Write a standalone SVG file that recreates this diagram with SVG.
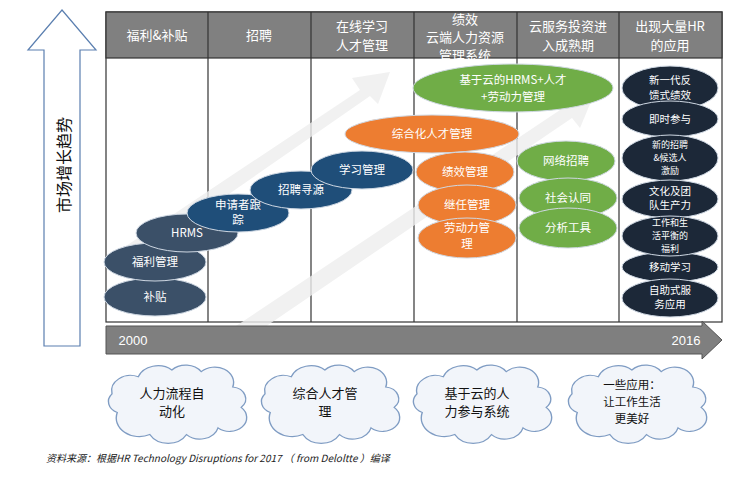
<svg xmlns="http://www.w3.org/2000/svg" width="742" height="480" viewBox="0 0 742 480">
<style>
text{font-family:"Noto Sans CJK SC","Liberation Sans",sans-serif;text-anchor:middle}
.hd{fill:#fff;font-size:13px}
.et{fill:#fff;font-size:11.5px}
.ed{fill:#fff;font-size:10.5px}
.es{fill:#fff;font-size:9px}
.ct{fill:#111;font-size:13px}
.cs{fill:#111;font-size:11px}
.col{fill:#fff;stroke:#333;stroke-width:1.2}
.blue{fill:#1f4e79;stroke:#cfd8e3;stroke-width:1}
.slate{fill:#3b5068;stroke:#cfd8e3;stroke-width:1}
.or{fill:#ed7d31;stroke:#cfd8e3;stroke-width:1}
.gr{fill:#70ad47;stroke:#cfd8e3;stroke-width:1}
.dk{fill:#1c2838;stroke:#cfd8e3;stroke-width:1}
.cloud{fill:#f2f5fa;stroke:#7f9cc3;stroke-width:1.3}
</style>
<defs>
<path id="cl" d="M -55,10 a14,14 0 0 1 -5,-22 a18,18 0 0 1 25,-20 a20,20 0 0 1 32,-8 a18,18 0 0 1 28,2 a18,18 0 0 1 30,18 a14,14 0 0 1 8,24 a16,16 0 0 1 -22,24 a18,18 0 0 1 -30,8 a20,20 0 0 1 -35,0 a22,22 0 0 1 -31,-26 z"/>
</defs>
<rect width="742" height="480" fill="#fff"/>
<g id="growth-arrow">
<path d="M62,10 L96,50 L80,50 L80,346 L44,346 L44,50 L28,50 Z" fill="#fff" stroke="#5b7fb0" stroke-width="1.2"/>
<text transform="translate(70,165) rotate(-90)" style="font-size:16px;fill:#111">市场增长趋势</text>
</g>
<g id="table">
<rect x="106" y="12" width="616" height="310" class="col"/>
<rect x="106" y="12" width="616" height="46" fill="#808080" stroke="#333" stroke-width="1.2"/>
<g stroke="#333" stroke-width="1.2">
<line x1="208" y1="12" x2="208" y2="322"/><line x1="311" y1="12" x2="311" y2="322"/>
<line x1="414" y1="12" x2="414" y2="322"/><line x1="517" y1="12" x2="517" y2="322"/>
<line x1="619" y1="12" x2="619" y2="322"/>
</g>
<text class="hd" x="157" y="40">福利&amp;补贴</text>
<text class="hd" x="259" y="40">招聘</text>
<text class="hd" x="362" y="31">在线学习</text><text class="hd" x="362" y="50">人才管理</text>
<text class="hd" x="465" y="24">绩效</text><text class="hd" x="465" y="42">云端人力资源</text><text class="hd" x="465" y="60">管理系统</text>
<text class="hd" x="568" y="31">云服务投资进</text><text class="hd" x="568" y="50">入成熟期</text>
<text class="hd" x="670" y="31">出现大量HR</text><text class="hd" x="670" y="50">的应用</text>
</g>
<g id="bg-arrows" fill="#eeeeee" opacity="0.8">
<path d="M120,250 L360,90 L352,78 L390,72 L378,104 L370,96 L128,264 Z"/>
<path d="M230,330 L560,110 L552,98 L595,92 L580,128 L572,118 L240,344 Z"/>
</g>
<g id="ellipses">
<g id="n-butie"><ellipse cx="155" cy="297" rx="51" ry="19" class="slate"/><text class="et" x="155" y="301">补贴</text></g>
<g id="n-fuli"><ellipse cx="155" cy="262" rx="51" ry="19" class="slate"/><text class="et" x="155" y="266">福利管理</text></g>
<g id="n-hrms"><ellipse cx="187" cy="233" rx="51" ry="19" class="slate"/><text class="et" x="187" y="237">HRMS</text></g>
<g id="n-shenqing"><ellipse cx="238" cy="213" rx="51" ry="19" class="blue"/><text class="et" x="238" y="209">申请者跟</text><text class="et" x="238" y="224">踪</text></g>
<g id="n-zhaopin"><ellipse cx="301" cy="190" rx="51" ry="19" class="blue"/><text class="et" x="301" y="194">招聘寻源</text></g>
<g id="n-xuexi"><ellipse cx="362" cy="170" rx="51" ry="19" class="blue"/><text class="et" x="362" y="174">学习管理</text></g>
<g id="n-zonghe"><ellipse cx="432" cy="134" rx="87" ry="19" class="or"/><text class="et" x="432" y="138">综合化人才管理</text></g>
<g id="n-jixiao"><ellipse cx="465" cy="172" rx="49" ry="20" class="or"/><text class="et" x="465" y="176">绩效管理</text></g>
<g id="n-jiren"><ellipse cx="467" cy="205" rx="49" ry="20" class="or"/><text class="et" x="467" y="209">继任管理</text></g>
<g id="n-laodong"><ellipse cx="467" cy="238" rx="49" ry="20" class="or"/><text class="et" x="467" y="232">劳动力管</text><text class="et" x="467" y="248">理</text></g>
<g id="n-cloudhrms"><ellipse cx="513" cy="88" rx="100" ry="24" class="gr"/><text class="et" x="513" y="84">基于云的HRMS+人才</text><text class="et" x="513" y="101">+劳动力管理</text></g>
<g id="n-wangluo"><ellipse cx="566" cy="161" rx="49" ry="20" class="gr"/><text class="et" x="566" y="165">网络招聘</text></g>
<g id="n-shehui"><ellipse cx="568" cy="198" rx="49" ry="20" class="gr"/><text class="et" x="568" y="202">社会认同</text></g>
<g id="n-fenxi"><ellipse cx="568" cy="228" rx="49" ry="20" class="gr"/><text class="et" x="568" y="232">分析工具</text></g>
<g id="n-fankui"><ellipse cx="670" cy="88" rx="48" ry="22" class="dk"/><text class="ed" x="670" y="84">新一代反</text><text class="ed" x="670" y="99">馈式绩效</text></g>
<g id="n-jishi"><ellipse cx="670" cy="119" rx="48" ry="18" class="dk"/><text class="ed" x="670" y="123">即时参与</text></g>
<g id="n-xinzhaopin"><ellipse cx="670" cy="158" rx="48" ry="23" class="dk"/><text class="es" x="670" y="148">新的招聘</text><text class="es" x="670" y="161">&amp;候选人</text><text class="es" x="670" y="174">激励</text></g>
<g id="n-wenhua"><ellipse cx="670" cy="199" rx="48" ry="19" class="dk"/><text class="ed" x="670" y="195">文化及团</text><text class="ed" x="670" y="209">队生产力</text></g>
<g id="n-yidong"><ellipse cx="670" cy="267" rx="48" ry="15" class="dk"/><text class="ed" x="670" y="271">移动学习</text></g>
<g id="n-pingheng"><ellipse cx="670" cy="236" rx="48" ry="20" class="dk"/><text class="es" x="670" y="226">工作和生</text><text class="es" x="670" y="239">活平衡的</text><text class="es" x="670" y="252">福利</text></g>
<g id="n-zizhu"><ellipse cx="670" cy="298" rx="48" ry="19" class="dk"/><text class="ed" x="670" y="294">自助式服</text><text class="ed" x="670" y="308">务应用</text></g>
</g>
<g id="timeline">
<path d="M106,326 L702,326 L702,321 L722,340 L702,359 L702,354 L106,354 Z" fill="#7f7f7f" stroke="#555" stroke-width="1"/>
<text x="133" y="345" style="fill:#fff;font-size:13px;font-family:'Liberation Sans',sans-serif">2000</text>
<text x="686" y="345" style="fill:#fff;font-size:13px;font-family:'Liberation Sans',sans-serif">2016</text>
</g>
<g id="clouds">
<g id="c1"><use href="#cl" transform="translate(175,404) scale(1.05,0.85)" class="cloud"/><text class="ct" x="172" y="398">人力流程自</text><text class="ct" x="172" y="416">动化</text></g>
<g id="c2"><use href="#cl" transform="translate(328,404) scale(1.05,0.85)" class="cloud"/><text class="ct" x="325" y="398">综合人才管</text><text class="ct" x="325" y="416">理</text></g>
<g id="c3"><use href="#cl" transform="translate(480,404) scale(1.05,0.85)" class="cloud"/><text class="ct" x="477" y="398">基于云的人</text><text class="ct" x="477" y="416">力参与系统</text></g>
<g id="c4"><use href="#cl" transform="translate(635,404) scale(1.05,0.85)" class="cloud"/><text class="ct" x="632" y="389" style="font-size:11.5px">一些应用：</text><text class="ct" x="632" y="406" style="font-size:11.5px">让工作生活</text><text class="ct" x="632" y="423" style="font-size:11.5px">更美好</text></g>
</g>
<text x="46" y="462" style="text-anchor:start;font-size:10px;font-style:italic;fill:#222">资料来源：根据HR Technology Disruptions for 2017 （ from Deloltte ）编译</text>
</svg>
